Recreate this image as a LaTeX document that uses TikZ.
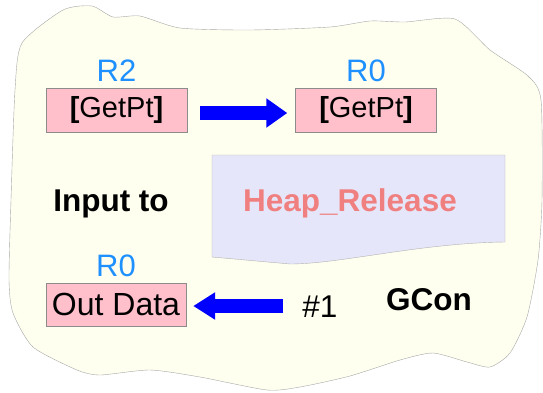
\documentclass[tikz,border=0pt]{standalone}
\usepackage{fontspec}
\setmainfont{Liberation Sans}
\usetikzlibrary{positioning,arrows.meta,calc}
\definecolor{regblue}{RGB}{30,144,255}
\definecolor{boxpink}{RGB}{255,192,203}
\definecolor{areafill}{RGB}{255,255,240}
\definecolor{docfill}{RGB}{230,230,250}
\definecolor{funcred}{RGB}{240,128,128}
\tikzset{
  gconarea/.style={draw=black!35, fill=areafill, thin},
  docshape/.style={draw=black!30, fill=docfill, thin},
  regbox/.style={draw=black!45, fill=boxpink, minimum width=141pt, minimum height=44pt,
                 inner sep=0pt, font=\fontsize{29}{33}\selectfont},
  reglbl/.style={text=regblue, font=\fontsize{31}{35}\selectfont, inner sep=1pt},
  plain/.style={font=\fontsize{31.5}{35}\selectfont, inner sep=2pt},
  heavy/.style={font=\fontsize{31.5}{35}\selectfont\bfseries, inner sep=2pt},
  funclbl/.style={heavy, text=funcred},
  blockarrow/.style={-{Triangle[length=21pt,width=28pt]}, line width=14pt, blue}
}

\begin{document}
\begin{tikzpicture}[x=1pt, y=-1pt]
\useasboundingbox (0,0) rectangle (543,392);
% outer region
\draw[gconarea] plot[smooth cycle, tension=0.4] coordinates {
  (22,43) (63,10) (92,6) (113,17) (140,16) (180,28) (250,30) (330,27) (370,21)
  (405,22) (455,19) (490,50) (528,76) (541,100) (542,200) (538,260) (527,317)
  (510,353) (490,367) (467,362) (433,353) (400,360) (350,376) (300,387) (267,390)
  (200,377) (150,370) (100,375) (77,370) (33,347) (13,313) (9,280) (11,200) (15,90)};
% function block
\draw[docshape] (212,155) -- (505,155) -- (505,242)
  .. controls (420,243) and (340,264) .. (290,264) -- (212,257) -- cycle;
\node[funclbl] (func) at (350,203) {Heap\_Release};

\node[regbox] (src) at (116.5,110) {\textbf{[}GetPt\textbf{]}};
\node[reglbl, above=5pt of src] (srcreg) {R2};
\node[regbox] (dst) at (366,110) {\textbf{[}GetPt\textbf{]}};
\node[reglbl, above=5pt of dst] (dstreg) {R0};

\node[heavy] (input) at (111,204) {Input to};

\node[regbox, minimum width=140pt, minimum height=43pt, font=\fontsize{32}{36}\selectfont]
  (out) at (116,304.5) {Out Data};
\node[reglbl, above=5pt of out] (outreg) {R0};
\node[plain] (ret) at (320,307) {\#1};
\node[heavy] (gcon) at (429,300) {GCon};

\draw[blockarrow, shorten <=13pt, shorten >=8pt] ($(src.east)+(0,3)$) -- ($(dst.west)+(0,3)$);
\draw[blockarrow, -{Triangle[length=22pt,width=26pt]}, shorten <=17pt, shorten >=7pt]
  ($(ret.west)+(0,-1)$) -- ($(out.east)+(0,1.5)$);
\end{tikzpicture}
\end{document}
